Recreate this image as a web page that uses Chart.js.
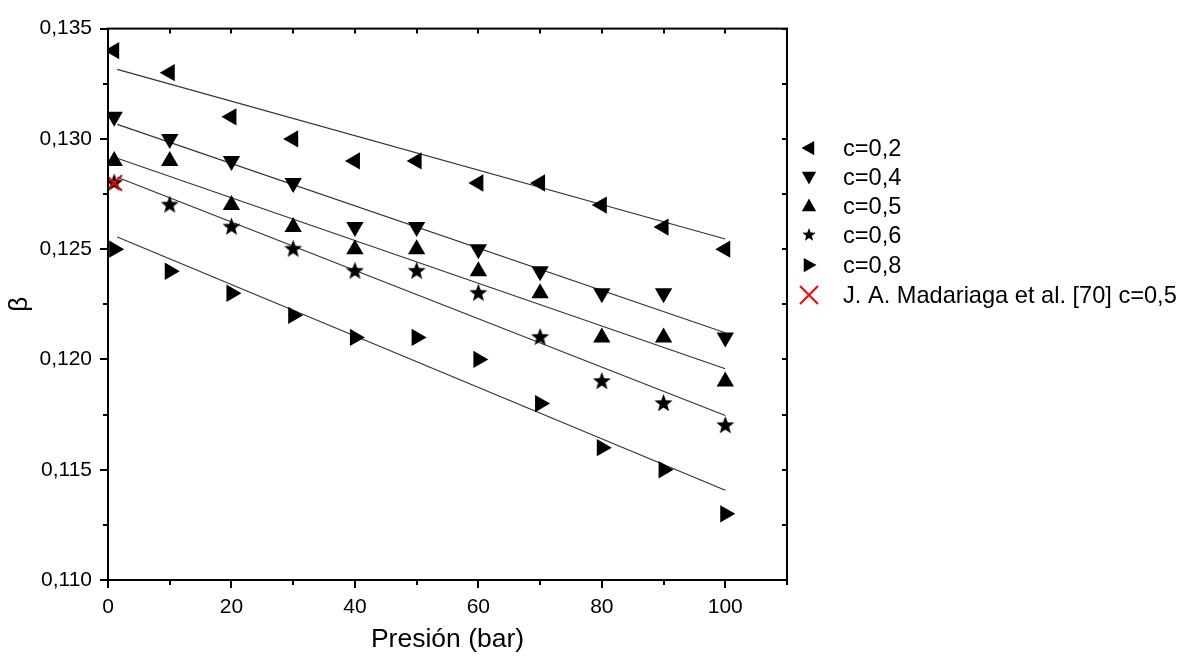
<!DOCTYPE html>
<html>
<head>
<meta charset="utf-8">
<script src="https://cdn.jsdelivr.net/npm/chart.js@4.4.0/dist/chart.umd.min.js"></script>
<style>
  body { margin: 0; background: #fff; }
  #wrap { width: 1180px; height: 660px; }
</style>
</head>
<body>
<div id="wrap"><canvas id="c" width="1180" height="660"></canvas></div>
<script>
// data
const pressure = [1, 10, 20, 30, 40, 50, 60, 70, 80, 90, 100];
const beta02 = [0.134, 0.133, 0.131, 0.130, 0.129, 0.129, 0.128, 0.128, 0.127, 0.126, 0.125];
const beta04 = [0.131, 0.130, 0.129, 0.128, 0.126, 0.126, 0.125, 0.124, 0.123, 0.123, 0.121];
const beta05 = [0.129, 0.129, 0.127, 0.126, 0.125, 0.125, 0.124, 0.123, 0.121, 0.121, 0.119];
const beta06 = [0.128, 0.127, 0.126, 0.125, 0.124, 0.124, 0.123, 0.121, 0.119, 0.118, 0.117];
const beta08 = [0.125, 0.124, 0.123, 0.122, 0.121, 0.121, 0.120, 0.118, 0.116, 0.115, 0.113];
const madariagaX = [1];
const madariagaY = [0.128];

// linear fit end points
const fitX = [1.5, 100];
const fit02 = [0.13315, 0.12546];
const fit04 = [0.13066, 0.12121];
const fit05 = [0.12912, 0.11958];
const fit06 = [0.12826, 0.11746];
const fit08 = [0.12555, 0.11407];

const labels = ['c=0,2', 'c=0,4', 'c=0,5', 'c=0,6', 'c=0,8', 'J. A. Madariaga et al. [70] c=0,5'];
const xTicks = [0, 20, 40, 60, 80, 100];
const yTicks = [0.110, 0.115, 0.120, 0.125, 0.130, 0.135];

const FONT = "'Liberation Sans', Arial, sans-serif";

function pts(xs, ys) {
    return xs.map((x, i) => ({x: x, y: ys[i]}));
}

// filled five point star for c=0,6
function makeStar(r) {
    let size = Math.ceil(r * 2 + 2);
    let cv = document.createElement('canvas');
    cv.width = size; cv.height = size;
    let g = cv.getContext('2d');
    g.fillStyle = '#000';
    g.beginPath();
    for (let i = 0; i < 10; i++) {
        let rr = i % 2 === 0 ? r : r * 0.42;
        let a = -Math.PI / 2 + i * Math.PI / 5;
        let px = size / 2 + rr * Math.cos(a), py = size / 2 + rr * Math.sin(a);
        if (i === 0) g.moveTo(px, py); else g.lineTo(px, py);
    }
    g.closePath();
    g.fill();
    return cv;
}
const starBig = makeStar(9.5);
const starSmall = makeStar(7);

function scatterSet(label, data, style, rotation, radius) {
    return {
        type: 'scatter', label: label, data: data,
        pointStyle: style, rotation: rotation, pointRadius: radius, pointHoverRadius: radius,
        backgroundColor: '#000', borderColor: '#000', borderWidth: 0
    };
}
function fitSet(ys) {
    return {
        type: 'line', data: pts(fitX, ys), showLine: true, pointRadius: 0,
        borderColor: '#333', borderWidth: 1.2, fill: false
    };
}

const markers = [
    {style: 'triangle', rot: -90},
    {style: 'triangle', rot: 180},
    {style: 'triangle', rot: 0},
    {style: 'star', rot: 0},
    {style: 'triangle', rot: 90},
    {style: 'cross', rot: 0}
];

function drawTri(ctx, x, y, r, rot) {
    ctx.save();
    ctx.translate(x, y);
    ctx.rotate(rot * Math.PI / 180);
    ctx.beginPath();
    ctx.moveTo(0, -r);
    ctx.lineTo(r * 0.95, r * 0.7);
    ctx.lineTo(-r * 0.95, r * 0.7);
    ctx.closePath();
    ctx.fill();
    ctx.restore();
}

const framePlugin = {
    id: 'frame',
    afterDraw(chart) {
        let ctx = chart.ctx;
        let a = chart.chartArea;
        let xs = chart.scales.x, ys = chart.scales.y;
        ctx.save();
        ctx.strokeStyle = '#000';
        ctx.lineWidth = 2;
        ctx.strokeRect(a.left, a.top, a.right - a.left, a.bottom - a.top);
        ctx.beginPath();
        for (let v = 0; v <= 110; v += 10) {
            let px = Math.round(xs.getPixelForValue(v));
            let len = v % 20 === 0 ? 8 : 5;
            ctx.moveTo(px, a.bottom); ctx.lineTo(px, a.bottom + len);
            ctx.moveTo(px, a.top); ctx.lineTo(px, a.top + 5);
        }
        for (let k = 0; k <= 10; k++) {
            let v = 0.110 + k * 0.0025;
            let py = Math.round(ys.getPixelForValue(v));
            let len = k % 2 === 0 ? 8 : 5;
            ctx.moveTo(a.left, py); ctx.lineTo(a.left - len, py);
            ctx.moveTo(a.right, py); ctx.lineTo(a.right - 5, py);
        }
        ctx.stroke();

        // legend
        ctx.font = '23.6px ' + FONT;
        ctx.textBaseline = 'middle';
        let ly = [148, 177, 206, 235, 265, 295];
        labels.forEach((t, i) => {
            let m = markers[i];
            let mx = 809, my = ly[i];
            ctx.fillStyle = '#000';
            if (m.style === 'triangle') {
                drawTri(ctx, mx, my, 7.5, m.rot);
            } else if (m.style === 'star') {
                ctx.drawImage(starSmall, mx - starSmall.width / 2, my - starSmall.height / 2);
            } else {
                ctx.strokeStyle = '#ff0000';
                ctx.lineWidth = 2;
                ctx.beginPath();
                ctx.moveTo(mx - 9, my - 9); ctx.lineTo(mx + 9, my + 9);
                ctx.moveTo(mx + 9, my - 9); ctx.lineTo(mx - 9, my + 9);
                ctx.stroke();
            }
            ctx.fillStyle = '#000';
            ctx.fillText(t, 843, my + 1);
        });
        ctx.restore();
    }
};

let context = document.getElementById('c').getContext('2d');
let chart = new Chart(context, {
    type: 'scatter',
    data: {
        datasets: [
            {
                type: 'scatter', label: labels[5], data: pts(madariagaX, madariagaY),
                pointStyle: 'crossRot', pointRadius: 11, borderColor: '#ff0000',
                backgroundColor: '#ff0000', borderWidth: 2
            },
            scatterSet(labels[0], pts(pressure, beta02), 'triangle', -90, 10),
            scatterSet(labels[1], pts(pressure, beta04), 'triangle', 180, 10),
            scatterSet(labels[2], pts(pressure, beta05), 'triangle', 0, 10),
            scatterSet(labels[3], pts(pressure, beta06), starBig, 0, 9),
            scatterSet(labels[4], pts(pressure, beta08), 'triangle', 90, 10),
            fitSet(fit02), fitSet(fit04), fitSet(fit05), fitSet(fit06), fitSet(fit08)
        ]
    },
    plugins: [framePlugin],
    options: {
        responsive: false,
        animation: false,
        layout: {
            padding: {left: 0, right: 393, top: 27, bottom: 0}
        },
        plugins: {
            legend: {display: false},
            tooltip: {enabled: false}
        },
        scales: {
            x: {
                type: 'linear',
                min: 0,
                max: 110,
                afterFit: scale => { scale.height = 80; },
                afterBuildTicks: scale => { scale.ticks = xTicks.map(v => ({value: v})); },
                grid: {display: false, drawTicks: false},
                border: {display: false},
                ticks: {
                    color: '#000',
                    padding: 15,
                    maxRotation: 0,
                    font: {family: FONT, size: 21}
                },
                title: {
                    display: true,
                    text: 'Presión (bar)',
                    color: '#000',
                    font: {family: FONT, size: 26.5},
                    padding: {top: 0, bottom: 4}
                }
            },
            y: {
                type: 'linear',
                min: 0.110,
                max: 0.135,
                afterFit: scale => { scale.width = 108; },
                afterBuildTicks: scale => { scale.ticks = yTicks.map(v => ({value: v})); },
                grid: {display: false, drawTicks: false},
                border: {display: false},
                ticks: {
                    color: '#000',
                    padding: 16,
                    font: {family: FONT, size: 21},
                    callback: v => v.toFixed(3).replace('.', ',')
                },
                title: {
                    display: true,
                    text: 'β',
                    color: '#000',
                    font: {family: FONT, size: 26},
                    padding: {top: 4, bottom: 0}
                }
            }
        }
    }
});
</script>
</body>
</html>
